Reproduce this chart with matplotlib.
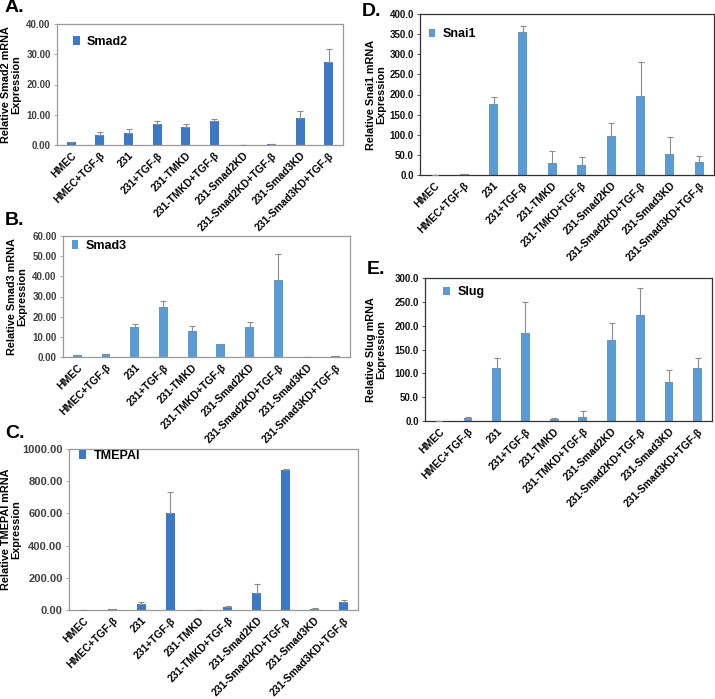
import matplotlib
matplotlib.use("Agg")
import matplotlib.pyplot as plt
import numpy as np

plt.rcParams['font.family'] = ['Liberation Sans', 'DejaVu Sans']

groups = ["HMEC", "HMEC+TGF-β", "231", "231+TGF-β", "231-TMKD", "231-TMKD+TGF-β",
          "231-Smad2KD", "231-Smad2KD+TGF-β", "231-Smad3KD", "231-Smad3KD+TGF-β"]

smad2 = [0.9, 3.3, 4.1, 7.0, 5.9, 8.0, 0.1, 0.2, 9.0, 27.3]
smad2_err = [0.0, 1.0, 1.1, 0.9, 1.1, 0.7, 0.0, 0.2, 2.4, 4.4]

smad3 = [0.8, 1.5, 15.0, 24.8, 13.0, 6.3, 15.0, 38.0, 0.2, 0.3]
smad3_err = [0.0, 0.0, 1.3, 3.2, 2.5, 0.0, 2.3, 13.0, 0.0, 0.0]

tmepai = [0.0, 6.0, 39.0, 603.0, 0.0, 19.0, 105.0, 870.0, 8.0, 52.0]
tmepai_err = [0.0, 2.0, 11.0, 128.0, 0.0, 6.0, 56.0, 8.0, 4.0, 12.0]

snai1 = [0.5, 2.5, 176.6, 355.0, 29.0, 24.0, 97.0, 196.5, 51.0, 31.5]
snai1_err = [0.0, 0.0, 16.4, 15.6, 30.0, 21.0, 31.0, 84.5, 43.5, 15.5]

slug = [1.0, 5.6, 111.4, 185.0, 3.5, 8.4, 169.6, 222.0, 82.0, 111.4]
slug_err = [0.0, 2.8, 21.0, 64.5, 2.1, 11.9, 36.4, 56.0, 25.0, 21.0]

dark_blue = "#3b78c6"
light_blue = "#5b9bd5"

W, H = 715, 699
fig = plt.figure(figsize=(W / 100, H / 100), dpi=100)


def px_axes(l, r, t, b):
    return fig.add_axes([l / W, 1 - b / H, (r - l) / W, (b - t) / H])


def panel(box, vals, errs, color, name, ymax, step, fmt, leg_xy, spine_col, tick_col,
          label_x, ytick_size=7):
    ax = px_axes(*box)
    x = np.arange(len(groups))
    ax.bar(x, vals, width=0.31, color=color, label=name, zorder=2)
    ax.errorbar(x, vals, yerr=[np.zeros(len(errs)), errs], fmt="none",
                ecolor="#8c8c8c", elinewidth=0.8, capsize=2, capthick=0.8, zorder=3)
    ax.set_xlim(-0.5, len(groups) - 0.5)
    ax.set_ylim(0, ymax)
    ax.set_yticks(np.arange(0, ymax + step / 2, step))
    ax.set_yticklabels([fmt % v for v in np.arange(0, ymax + step / 2, step)],
                       fontsize=ytick_size, fontweight="bold", color=tick_col)
    ax.set_xticks(x)
    ax.set_xticklabels(groups, rotation=45, ha="right", rotation_mode="anchor",
                       fontsize=7.5, fontweight="bold")
    ax.tick_params(axis="x", length=0, pad=4)
    ax.tick_params(axis="y", length=2.5, width=0.6, pad=2, colors=spine_col, labelcolor=tick_col)
    for s in ax.spines.values():
        s.set_color(spine_col)
        s.set_linewidth(0.9)
    ax.set_ylabel("Relative " + name + " mRNA\nExpression", fontsize=7.8,
                  fontweight="bold", linespacing=1.0)
    ax.yaxis.set_label_coords(label_x, 0.5)
    ax.legend(loc="center left", bbox_to_anchor=leg_xy, frameon=False,
              handlelength=0.55, handleheight=0.7, handletextpad=0.6,
              borderpad=0, borderaxespad=0,
              prop={"weight": "bold", "size": 9})
    return ax


panel((57, 343, 24, 145), smad2, smad2_err, dark_blue, "Smad2", 40, 10, "%.2f",
      (0.055, 0.85), "#9a9a9a", "#404040", -0.126)
panel((63, 350, 236, 357), smad3, smad3_err, light_blue, "Smad3", 60, 10, "%.2f",
      (0.03, 0.92), "#9a9a9a", "#404040", -0.125)
panel((69, 358, 449, 610), tmepai, tmepai_err, dark_blue, "TMEPAI", 1000, 200, "%.2f",
      (0.036, 0.955), "#9a9a9a", "#404040", -0.165, ytick_size=8)
panel((420, 714, 14, 175), snai1, snai1_err, light_blue, "Snai1", 400, 50, "%.1f",
      (0.029, 0.874), "#333333", "#111111", -0.116)
panel((425, 712, 278, 421), slug, slug_err, light_blue, "Slug", 300, 50, "%.1f",
      (0.062, 0.9), "#333333", "#111111", -0.136)

for lab, xp, yp in [("A.", 5, 8), ("B.", 5, 220), ("C.", 5, 433), ("D.", 362, 11), ("E.", 367, 270)]:
    fig.text(xp / W, 1 - yp / H, lab, fontsize=14, fontweight="bold", va="center", ha="left")

fig.savefig("out.png", dpi=100)
